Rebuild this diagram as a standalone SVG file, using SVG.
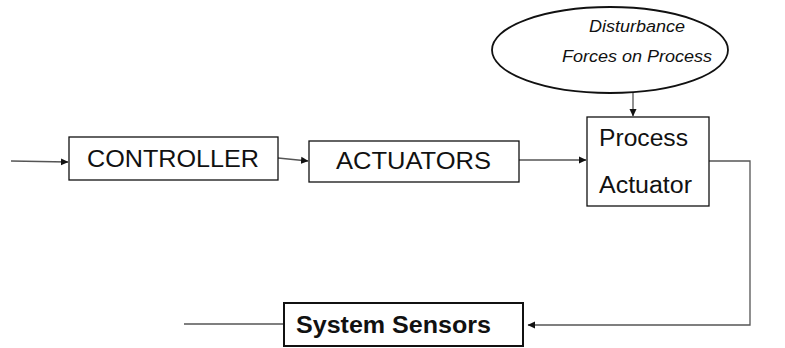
<svg xmlns="http://www.w3.org/2000/svg" width="785" height="348" viewBox="0 0 785 348">
<defs>
<marker id="arr" markerWidth="8" markerHeight="8" refX="7" refY="4" orient="auto" markerUnits="userSpaceOnUse">
<path d="M0,0.5 L7.5,4 L0,7.5 Z" fill="#111"/>
</marker>
</defs>
<style>
.box{fill:#fff;stroke:#111;stroke-width:1.3}
.bold{fill:#fff;stroke:#111;stroke-width:2}
.ln{fill:none;stroke:#555;stroke-width:1.3}
text{font-family:"Liberation Sans",Arial,sans-serif;fill:#111}
.big{font-size:23px}
.it{font-size:16px;font-style:italic}
.b{font-size:23px;font-weight:bold}
</style>
<rect width="785" height="348" fill="#fff"/>
<g id="connectors">
<line class="ln" x1="11" y1="161" x2="68" y2="162" marker-end="url(#arr)"/>
<line class="ln" x1="278" y1="158" x2="308" y2="161" marker-end="url(#arr)"/>
<line class="ln" x1="519" y1="160" x2="586" y2="160" marker-end="url(#arr)"/>
<line class="ln" x1="633" y1="93" x2="633" y2="116" marker-end="url(#arr)"/>
<polyline class="ln" points="709,161 750,161 750,325 528,325" marker-end="url(#arr)"/>
<line class="ln" x1="184" y1="324" x2="284" y2="324"/>
</g>
<g id="disturbance">
<ellipse cx="610" cy="50" rx="118" ry="43" fill="#fff" stroke="#111" stroke-width="1.8"/>
<text class="it" x="637" y="32" text-anchor="middle" textLength="96" lengthAdjust="spacingAndGlyphs">Disturbance</text>
<text class="it" x="637" y="62" text-anchor="middle" textLength="150" lengthAdjust="spacingAndGlyphs">Forces on Process</text>
</g>
<g id="controller">
<rect class="box" x="69" y="137" width="209" height="43"/>
<text class="big" x="87" y="167" textLength="172" lengthAdjust="spacingAndGlyphs">CONTROLLER</text>
</g>
<g id="actuators">
<rect class="box" x="309" y="141" width="210" height="41"/>
<text class="big" x="336" y="169" textLength="155" lengthAdjust="spacingAndGlyphs">ACTUATORS</text>
</g>
<g id="process">
<rect class="box" x="587" y="117" width="122" height="89"/>
<text class="big" x="599" y="146" textLength="89" lengthAdjust="spacingAndGlyphs">Process</text>
<text class="big" x="599" y="193" textLength="93" lengthAdjust="spacingAndGlyphs">Actuator</text>
</g>
<g id="sensors">
<rect class="bold" x="284" y="303" width="239" height="43"/>
<text class="b" x="296" y="333" textLength="195" lengthAdjust="spacingAndGlyphs">System Sensors</text>
</g>
</svg>
